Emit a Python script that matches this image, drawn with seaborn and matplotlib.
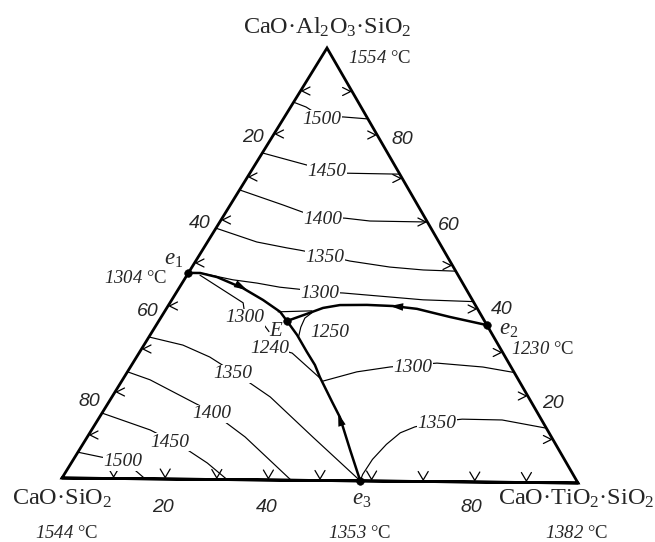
import numpy as np
import pandas as pd
import seaborn as sns
import matplotlib.pyplot as plt

# ---- data: compositions in % (b = CaO·TiO2·SiO2, c = CaO·Al2O3·SiO2) ----

# invariant points
pt_names = ["e1", "E", "e2", "e3"]
pt_b = [0.0, 24.7, 63.7, 57.8]
pt_c = [47.7, 36.8, 36.3, 0.0]

# boundary curves (thick)
bnd_e1_E = [(0, 47.7), (2.3, 47.7), (6.0, 46.8), (12.3, 44.3), (17.6, 41.6),
            (22.3, 38.9), (24.7, 36.8)]
bnd_e2_E = [(63.7, 36.3), (55.6, 38.1), (48.3, 39.9), (43.3, 40.5), (38.2, 40.7),
            (33.0, 40.6), (30.1, 39.9), (27.7, 38.5), (24.7, 36.8)]
bnd_E_e3 = [(24.7, 36.8), (28.3, 33.6), (32.2, 29.7), (35.3, 26.7), (37.7, 23.9),
            (43.0, 18.2), (46.3, 14.7), (52.2, 7.1), (57.8, 0)]

# arrows on boundaries (tail, tip)
arrow_e1_E = [(11.0, 45.0), (13.3, 43.9)]
arrow_e3_E = [(47.6, 12.9), (45.5, 15.6)]
arrow_e2_E = [(45.4, 40.3), (42.8, 40.5)]

# isotherms, anorthite field
iso_1500_an = [(0, 87.4), (3.0, 86.3), (7.2, 84.0), (11.3, 84.1), (16.3, 83.7)]
iso_1450_an = [(0, 75.6), (10.0, 72.9), (14.5, 71.8), (18.7, 71.1), (29.0, 71.0)]
iso_1400_an = [(0, 67.0), (4.8, 65.4), (10.2, 63.6), (14.8, 62.0), (19.3, 60.9),
               (23.7, 60.7), (28.8, 60.1), (40.0, 60.0)]
iso_1350_an = [(0, 58.1), (9.5, 55.0), (16.0, 53.7), (18.8, 53.2), (24.2, 52.1),
               (29.7, 50.8), (38.1, 49.5), (44.9, 48.9), (51.3, 48.7)]
iso_1300_an = [(2.8, 47.6), (9.4, 46.2), (14.4, 45.5), (19.3, 44.6), (23.0, 44.2),
               (27.6, 43.6), (32.2, 43.4), (48.4, 42.0), (58.3, 41.7)]
iso_1250_an = [(21.9, 38.9), (28.3, 39.2)]

# isotherms, wollastonite field
iso_1300_wo = [(2.5, 47.2), (14.1, 40.9), (16.0, 37.9), (20.0, 36.5), (22.5, 34.3)]
iso_1240_wo = [(24.4, 30.8), (29.5, 29.4), (37.8, 23.7)]
iso_1350_wo = [(0, 32.8), (7.5, 31.0), (14.1, 28.3), (20.4, 24.9), (24.9, 22.4),
               (30.5, 19.2), (43.5, 10.0), (57.8, 0)]
iso_1400_wo = [(0, 24.7), (5.3, 22.9), (16.7, 17.6), (21.1, 15.6), (24.8, 13.3),
               (30.4, 9.9), (37.9, 4.6), (44.4, 0)]
iso_1450_wo = [(0, 15.1), (11.3, 11.3), (16.3, 9.0), (20.8, 6.8), (26.2, 3.8), (32.0, 0)]
iso_1500_wo = [(0, 6.0), (5.2, 4.9), (9.6, 4.3), (13.1, 2.0), (16.1, 0)]

# isotherms, titanite field
iso_1250_ti = [(28.6, 38.9), (27.8, 37.5), (28.1, 35.4), (28.8, 33.2)]
iso_1300_ti = [(38.8, 23.0), (44.2, 25.2), (50.0, 26.4), (54.2, 26.9), (58.6, 27.4),
               (67.9, 26.6), (74.6, 25.4)]
iso_1350_ti = [(57.8, 0), (57.5, 1.5), (57.6, 5.0), (58.5, 8.5), (59.8, 11.2), (61.9, 12.6),
               (65.6, 13.8), (70.1, 14.5), (77.9, 14.4), (87.4, 12.6)]

# isotherm labels
lab_text = ["1500", "1450", "1400", "1350", "1300", "1300", "1250", "1240",
            "1350", "1300", "1400", "1450", "1350", "1500"]
lab_b = [7.2, 14.5, 19.3, 24.2, 27.6, 16.0, 34.1, 24.4, 20.4, 54.2, 21.1, 16.3, 65.6, 9.6]
lab_c = [84.0, 71.8, 60.9, 52.1, 43.6, 37.9, 34.8, 30.8, 24.9, 26.9, 15.6, 9.0, 13.8, 4.3]

# scale numbers
scale_ticks = [20, 40, 60, 80]

# ---- layout ----
L = np.array([62.0, 478.0])   # CaO·SiO2
R = np.array([578.0, 483.0])  # CaO·TiO2·SiO2
T = np.array([327.0, 48.0])   # CaO·Al2O3·SiO2


def to_xy(pts):
    p = np.asarray(pts, dtype=float) / 100.0
    b, c = p[:, 0], p[:, 1]
    x = L[0] + b * (R[0] - L[0]) + c * (T[0] - L[0])
    y = L[1] + b * (R[1] - L[1]) + c * (T[1] - L[1])
    return x, y


def curve_frame(curves):
    parts = []
    for name, pts in curves.items():
        x, y = to_xy(pts)
        parts.append(pd.DataFrame({"curve": name, "x": x, "y": y}))
    return pd.concat(parts, ignore_index=True)


sns.set_theme(style="white")
plt.rcParams["font.family"] = ["Liberation Serif", "DejaVu Sans"]
plt.rcParams["mathtext.fontset"] = "custom"
plt.rcParams["mathtext.rm"] = "Liberation Serif"
plt.rcParams["mathtext.it"] = "Liberation Serif:italic"
plt.rcParams["mathtext.bf"] = "Liberation Serif:bold"
# italic digits via \mathsf (mathtext keeps digits upright in \mathit)
plt.rcParams["mathtext.sf"] = "Liberation Serif:italic"

fig = plt.figure(figsize=(6.55, 5.42), dpi=100)
ax = fig.add_axes([0, 0, 1, 1])

# triangle frame
frame = curve_frame({"frame": [(0, 0), (100, 0), (0, 100), (0, 0), (100, 0)]})
sns.lineplot(data=frame, x="x", y="y", units="curve", estimator=None, sort=False,
             color="black", lw=2.0, solid_joinstyle="miter", ax=ax, zorder=4)

# isotherms
iso_df = curve_frame({
    "1500an": iso_1500_an, "1450an": iso_1450_an, "1400an": iso_1400_an,
    "1350an": iso_1350_an, "1300an": iso_1300_an, "1250an": iso_1250_an,
    "1300wo": iso_1300_wo, "1240wo": iso_1240_wo, "1350wo": iso_1350_wo,
    "1400wo": iso_1400_wo, "1450wo": iso_1450_wo, "1500wo": iso_1500_wo,
    "1250ti": iso_1250_ti, "1300ti": iso_1300_ti, "1350ti": iso_1350_ti,
})
sns.lineplot(data=iso_df, x="x", y="y", units="curve", estimator=None, sort=False,
             color="black", lw=0.85, ax=ax, zorder=2)

# boundary curves
bnd_df = curve_frame({"e1E": bnd_e1_E, "e2E": bnd_e2_E, "Ee3": bnd_E_e3})
sns.lineplot(data=bnd_df, x="x", y="y", units="curve", estimator=None, sort=False,
             color="black", lw=1.8, ax=ax, zorder=3)

# arrow heads
for tail_tip in [arrow_e1_E, arrow_e3_E, arrow_e2_E]:
    x, y = to_xy(tail_tip)
    d = np.array([x[1] - x[0], y[1] - y[0]])
    d = d / np.hypot(*d)
    n = np.array([-d[1], d[0]])
    tip = np.array([x[1], y[1]])
    base = tip - d * 13
    poly = np.array([tip, base + n * 3.8, base - n * 3.8])
    ax.fill(poly[:, 0], poly[:, 1], color="black", zorder=4, lw=0)

# invariant points
px, py = to_xy(list(zip(pt_b, pt_c)))
sns.scatterplot(x=px, y=py, s=30, color="black", edgecolor="black", ax=ax, zorder=5)

# chevrons along the sides
for k in range(1, 10):
    f = k / 10
    p = L + f * (T - L) + np.array([1.5, 0])
    ax.plot([p[0] + 8, p[0], p[0] + 8], [p[1] - 4, p[1], p[1] + 4], color="black", lw=0.9, zorder=3)
    p = R + f * (T - R) + np.array([-1.5, 0])
    ax.plot([p[0] - 8, p[0], p[0] - 8], [p[1] - 4, p[1], p[1] + 4], color="black", lw=0.9, zorder=3)
    p = L + f * (R - L) + np.array([0, -1.5])
    ax.plot([p[0] - 5, p[0], p[0] + 5], [p[1] - 8.5, p[1], p[1] - 8.5], color="black", lw=0.9, zorder=3)

# isotherm labels
lx, ly = to_xy(list(zip(lab_b, lab_c)))
for t, x, y in zip(lab_text, lx, ly):
    ax.text(x, y, t, ha="center", va="center_baseline", fontsize=14, fontstyle="italic",
            bbox=dict(facecolor="white", edgecolor="none", pad=0.3), zorder=6)

# scale numbers
sans = dict(family="Liberation Sans", fontstyle="italic", fontsize=14,
            ha="center", va="center_baseline")
left_pos = [(253, 135), (200, 221), (148, 310), (89, 399)]
right_pos = [(402, 137), (449, 223), (502, 308), (553, 402)]
bottom_pos = {20: (163, 505), 40: (267, 505), 80: (471, 505)}
for v, (x, y) in zip(scale_ticks, left_pos):
    ax.text(x, y, str(v), **sans)
for v, (x, y) in zip(scale_ticks[::-1], right_pos):
    ax.text(x, y, str(v), **sans)
for v, (x, y) in bottom_pos.items():
    ax.text(x, y, str(v), **sans)

# compound and point labels
big = 17.5
small = 13.5
ax.text(327, 34, "CaO·Al$_2$O$_3$·SiO$_2$", ha="center", va="baseline", fontsize=big)
ax.text(380, 63, r"$\mathsf{1554}$ °C", ha="center", va="baseline", fontsize=small)
ax.text(62, 505, "CaO·SiO$_2$", ha="center", va="baseline", fontsize=big)
ax.text(67, 538, r"$\mathsf{1544}$ °C", ha="center", va="baseline", fontsize=small)
ax.text(576, 505, "CaO·TiO$_2$·SiO$_2$", ha="center", va="baseline", fontsize=big)
ax.text(577, 538, r"$\mathsf{1382}$ °C", ha="center", va="baseline", fontsize=small)
ax.text(362, 505, r"$e_3$", ha="center", va="baseline", fontsize=16.5)
ax.text(360, 538, r"$\mathsf{1353}$ °C", ha="center", va="baseline", fontsize=small)
ax.text(174, 265, r"$e_1$", ha="center", va="baseline", fontsize=16.5)
ax.text(136, 283, r"$\mathsf{1304}$ °C", ha="center", va="baseline", fontsize=small)
ax.text(509, 335, r"$e_2$", ha="center", va="baseline", fontsize=16.5)
ax.text(543, 354, r"$\mathsf{1230}$ °C", ha="center", va="baseline", fontsize=small)
ax.text(276, 336, r"$E$", ha="center", va="baseline", fontsize=15)

ax.set_xlim(0, 655)
ax.set_ylim(542, 0)
ax.axis("off")

fig.savefig("out.png", dpi=100)
